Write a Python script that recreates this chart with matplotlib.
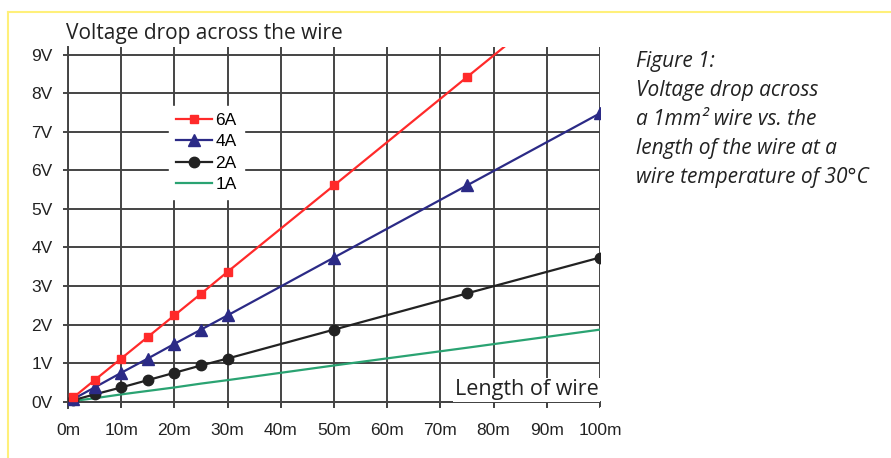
import matplotlib.pyplot as plt
from matplotlib.lines import Line2D

# 電線長さ (m)
lengths = [1, 5, 10, 15, 20, 25, 30, 50, 75, 100]
# 電圧降下 (V)
drop_6a = [0.11, 0.56, 1.12, 1.68, 2.24, 2.80, 3.37, 5.61, 8.42, 11.22]
drop_4a = [0.07, 0.37, 0.75, 1.12, 1.50, 1.87, 2.24, 3.74, 5.61, 7.48]
drop_2a = [0.04, 0.19, 0.37, 0.56, 0.75, 0.94, 1.12, 1.87, 2.81, 3.74]
drop_1a = [0.02, 0.09, 0.19, 0.28, 0.37, 0.47, 0.56, 0.94, 1.40, 1.87]

x_ticks = list(range(0, 101, 10))
x_labels = [f"{v}m" for v in x_ticks]
y_ticks = list(range(0, 10))
y_labels = [f"{v}V" for v in y_ticks]

caption = ["Figure 1:", "Voltage drop across", "a 1mm\u00b2 wire vs. the",
           "length of the wire at a", "wire temperature of 30\u00b0C"]

fig = plt.figure(figsize=(8.91, 4.58), dpi=100)
# 0V = 401px, 9V = 54px
ax = fig.add_axes([68 / 891, 1 - 407.5 / 458, 532 / 891, 360.5 / 458])

# 黄色の枠
fig.add_artist(Line2D([8 / 891, 1], [1 - 12 / 458] * 2, color="#fff07a", lw=1.5))
fig.add_artist(Line2D([8 / 891] * 2, [0, 1 - 12 / 458], color="#fff07a", lw=1.5))

ax.plot(lengths, drop_1a, color="#2aa372", lw=1.6, label="1A", zorder=3)
ax.plot(lengths, drop_2a, color="#222222", lw=1.6, marker="o", ms=7.5, label="2A", zorder=4)
ax.plot(lengths, drop_4a, color="#2b2a86", lw=1.6, marker="^", ms=8.5, label="4A", zorder=5)
ax.plot(lengths, drop_6a, color="#ff2a2a", lw=1.6, marker="s", ms=5.5, label="6A", zorder=6)

ax.set_xlim(0, 100)
ax.set_ylim(-0.15, 9.2)
ax.spines["bottom"].set_position(("data", 0))
for s in ["top", "right"]:
    ax.spines[s].set_visible(False)
for s in ["left", "bottom"]:
    ax.spines[s].set_color("#444444")
    ax.spines[s].set_linewidth(1.4)

ax.set_xticks(x_ticks, x_labels)
ax.set_yticks(y_ticks, y_labels)
ax.grid(True, color="#444444", lw=1.4, zorder=0)
ax.set_axisbelow(True)
ax.tick_params(axis="both", length=3.6, width=1.4, color="#444444",
               labelsize=12.5, labelcolor="#222222")
ax.tick_params(axis="y", pad=7.5)
ax.tick_params(axis="x", pad=12)
for lab in ax.get_xticklabels() + ax.get_yticklabels():
    lab.set_family("Liberation Sans")

handles, labels = ax.get_legend_handles_labels()
leg = ax.legend(handles[::-1], labels[::-1], loc="upper left",
                bbox_to_anchor=(0.173, 0.86), frameon=True, fancybox=False,
                edgecolor="white", facecolor="white", framealpha=1,
                handlelength=2.1, handletextpad=0.2, labelspacing=0.35,
                borderpad=0.4, prop={"family": "Liberation Sans", "size": 12.5})
leg.set_zorder(10)

fig.text(66 / 891, 1 - 33 / 458, "Voltage drop across the wire",
         family="Open Sans", fontsize=15, color="#222222", va="center")
ax.text(0.997, 0.02, "Length of wire", transform=ax.transAxes,
        family="Open Sans", fontsize=15.5, color="#222222", ha="right", va="bottom",
        bbox=dict(facecolor="white", edgecolor="none", pad=1), zorder=10)

for i, line in enumerate(caption):
    fig.text(636 / 891, 1 - (61 + i * 29.2) / 458, line, family="Open Sans",
             style="italic", fontsize=15, color="#222222", va="center")

fig.savefig("out.png", dpi=100)
